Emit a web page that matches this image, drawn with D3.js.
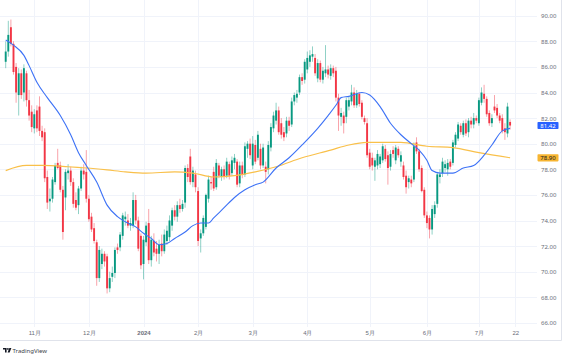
<!DOCTYPE html>
<html><head><meta charset="utf-8">
<script src="https://cdn.jsdelivr.net/npm/d3@7"></script>
<style>
body{margin:0;background:#fff;}
svg{display:block;font-family:"Noto Sans CJK JP","Noto Sans",sans-serif;}
</style></head><body>
<svg id="c" width="575" height="358"></svg>
<script>
// ---- data (daily candles) ----
const open = [86.4,87.2,89.1,87.8,86.0,83.8,85.5,84.0,85.5,83.4,
82.5,81.2,82.6,82.9,81.0,80.9,77.4,75.5,75.7,77.0,
78.5,78.3,76.4,75.8,77.7,77.9,77.0,75.6,75.2,76.5,
77.9,77.8,75.7,74.3,73.4,72.3,69.5,70.6,71.4,71.2,
68.7,69.6,69.9,71.9,71.9,72.8,74.1,74.0,73.6,73.6,
75.6,74.0,72.8,70.6,72.3,73.8,70.9,72.4,71.8,71.4,
72.2,71.6,72.4,72.7,73.6,74.8,74.3,75.2,74.9,75.4,
78.1,79.0,77.0,77.6,76.3,72.6,73.0,73.5,75.7,77.0,
77.8,76.6,78.3,77.4,78.0,77.5,78.4,77.7,78.5,78.6,
76.9,78.3,77.6,79.6,80.0,78.3,79.9,78.9,79.6,78.3,
78.2,78.0,79.7,81.2,81.8,82.6,81.6,80.9,80.8,81.8,
81.5,83.3,83.6,84.0,85.2,85.0,85.8,86.4,86.8,86.7,
85.1,86.3,85.0,85.5,85.8,85.3,85.9,85.7,83.6,82.1,
82.2,82.1,82.9,83.3,84.0,83.0,83.9,83.2,82.0,81.6,
79.3,78.9,78.2,78.3,78.4,78.7,79.6,79.1,78.2,79.5,
78.7,79.6,78.6,78.3,77.5,77.0,77.2,77.2,80.1,79.4,
78.1,76.4,74.4,74.2,73.3,74.5,75.3,77.4,77.7,78.1,
78.0,78.6,78.5,79.9,80.4,81.4,80.7,81.6,80.9,81.8,
81.5,82.0,81.6,83.2,83.9,83.5,82.4,81.6,82.9,82.8,
82.2,82.0,81.2,80.8,81.7];
const high = [88.0,89.6,89.7,88.0,86.3,85.9,85.8,86.2,85.7,84.2,
83.0,82.7,83.0,83.7,81.4,81.2,77.9,76.5,77.4,78.5,
79.6,78.6,76.7,78.0,78.4,78.2,77.3,76.2,76.7,78.2,
78.4,79.5,76.0,74.6,73.8,72.5,72.0,71.8,71.6,71.4,
70.0,70.4,71.9,72.2,73.1,74.6,74.7,74.5,74.2,76.2,
76.0,74.3,73.0,72.8,73.9,74.9,72.8,73.0,72.4,72.5,
72.9,73.3,73.6,74.4,75.0,75.2,75.5,75.7,75.6,78.3,
78.4,79.6,78.2,77.9,76.6,73.3,74.4,76.1,77.5,77.4,
78.2,78.8,78.5,78.2,78.3,78.9,78.6,79.0,79.2,78.8,
78.6,78.6,80.1,80.2,80.4,80.6,80.3,81.0,80.0,80.0,
78.6,80.2,81.6,82.5,83.2,82.9,82.0,81.3,82.1,82.1,
83.6,84.0,84.2,85.4,85.5,86.6,87.2,87.3,87.6,87.0,
86.6,86.5,86.0,87.7,86.1,86.2,86.1,86.0,83.9,82.8,
82.5,83.6,83.7,84.6,84.4,84.2,84.0,83.4,82.2,82.0,
79.6,79.3,78.9,79.5,79.2,80.0,79.9,79.4,79.5,79.8,
79.9,79.8,79.4,78.6,77.9,77.5,77.5,80.1,80.5,79.6,
78.3,76.6,74.7,74.4,75.2,75.5,77.8,78.0,78.9,78.7,
78.8,78.8,80.3,80.9,81.7,81.6,81.8,81.9,82.0,82.1,
82.4,82.2,83.6,84.4,84.6,83.7,82.6,82.3,83.8,83.1,
82.4,82.3,81.6,83.2,81.9];
const low = [85.9,86.8,87.6,85.4,83.2,82.2,83.5,83.3,82.9,81.8,
80.9,80.8,80.9,80.6,80.2,77.0,74.9,74.7,75.4,76.8,
78.0,76.2,72.5,74.8,77.2,76.7,75.0,74.8,74.5,76.3,
77.2,75.4,73.9,73.1,72.2,68.9,69.2,70.2,70.4,68.3,
68.4,69.2,69.5,71.4,71.6,72.5,73.6,73.4,73.2,73.4,
73.7,71.6,70.2,69.4,72.0,70.6,70.4,71.2,70.8,70.6,
71.2,71.4,72.1,72.4,73.2,74.0,73.9,74.6,74.7,75.0,
77.0,76.8,76.6,76.2,72.0,71.5,72.8,73.3,75.4,76.4,
76.3,76.4,77.3,77.1,77.2,77.3,77.2,77.5,78.0,76.6,
76.6,77.3,77.4,78.9,78.8,78.0,78.4,78.7,78.0,78.1,
76.9,77.6,79.4,80.9,81.5,80.7,80.4,80.2,80.5,81.0,
81.3,83.0,83.2,83.8,84.6,84.7,85.5,86.0,86.4,85.3,
84.8,84.8,84.7,85.2,85.1,85.0,85.2,83.3,81.0,81.4,
80.8,81.6,82.6,83.0,82.8,82.8,82.9,81.9,81.5,78.9,
78.0,77.9,77.1,78.0,78.1,78.5,78.6,76.8,77.9,78.9,
78.4,78.9,78.2,77.2,76.1,76.5,76.6,77.0,79.2,77.8,
76.2,74.2,73.4,72.6,72.9,74.2,75.0,76.9,77.4,77.8,
77.5,78.0,78.3,79.7,80.2,80.7,80.5,80.6,80.5,81.2,
81.2,81.6,81.4,83.0,83.2,82.1,81.4,81.3,82.4,82.0,
81.6,80.8,80.3,80.5,81.1];
const close = [87.2,88.5,87.8,85.6,84.0,85.5,83.8,85.9,83.4,82.2,
81.3,82.3,81.2,81.0,80.5,77.3,75.4,75.7,77.2,78.3,
78.1,76.4,73.1,77.8,77.9,77.0,75.3,75.0,76.5,77.9,
77.6,75.7,74.1,73.3,72.4,69.5,71.7,71.4,70.8,68.7,
69.5,69.9,71.7,71.7,72.9,74.4,74.3,73.6,73.8,75.6,
74.0,71.8,70.5,72.5,73.6,70.9,72.5,71.5,71.4,72.1,
71.6,72.9,73.2,74.0,74.8,74.3,75.2,74.9,75.3,78.1,
77.4,77.0,77.9,76.6,72.4,73.0,74.2,76.0,77.2,76.9,
76.5,78.5,77.5,78.0,77.4,78.6,77.5,78.7,78.9,76.8,
78.3,77.6,79.8,80.0,79.1,80.0,78.6,80.7,78.3,79.7,
77.8,79.9,81.3,82.2,82.6,80.9,80.7,80.5,81.8,81.4,
83.3,83.8,83.9,85.2,84.9,86.4,86.7,86.9,87.0,85.5,
86.3,85.0,85.7,85.8,85.4,85.9,85.5,83.6,82.2,82.4,
81.6,83.4,83.4,84.0,83.0,83.9,83.1,82.1,81.7,79.1,
78.2,78.3,78.7,79.2,79.0,79.8,78.8,78.1,79.2,79.2,
79.7,79.1,79.1,77.4,76.6,77.3,76.9,79.8,79.4,78.0,
76.3,74.4,73.8,73.3,74.9,75.2,77.6,77.6,78.6,78.4,
78.5,78.2,80.1,80.7,81.5,80.9,81.6,80.8,81.8,81.5,
82.0,81.8,83.4,84.0,83.5,82.3,81.6,82.0,82.6,82.2,
81.8,81.0,80.9,82.9,81.42];

// moving averages, read at sample bars
const fastMaBar = [0,3,7,9,12,16,21,25,28,31,35,39,43,46,50,53,56,59,62,65,69,72,75,78,80,84,88,92,96,99,104,109,114,120,124,127,129,132,137,140,144,148,152,156,159,162,164,167,172,176,180,184,187,191,194];
const fastMaVal = [88.1,87.7,86.9,86.1,84.8,83.6,82.2,80.7,79.3,78.3,77.0,75.2,74.3,73.9,73.5,73.0,72.6,72.1,72.2,72.6,73.1,73.6,73.8,73.8,74.2,75.0,75.8,76.4,76.8,77.0,78.1,78.9,79.9,81.2,82.2,83.0,83.6,83.7,84.0,83.8,82.9,81.6,80.7,80.0,79.5,78.7,77.9,77.7,77.7,78.1,78.3,79.1,79.9,81.0,81.2];
const slowMaBar = [0,8,14,24,31,39,46,54,65,72,80,88,96,104,114,125,132,139,146,152,162,172,182,194];
const slowMaVal = [77.9,78.3,78.3,78.2,78.1,77.95,77.8,77.7,77.8,77.7,77.4,77.5,77.8,78.2,78.9,79.5,79.9,80.1,80.1,80.1,79.8,79.7,79.3,78.9];

const priceTicks = [66,68,70,72,74,76,78,80,82,84,86,88,90];
const timeTickBar = [11,32,53,74,95,116,140,162,182,196];
const timeTickLabel = ["11月","12月","2024","2月","3月","4月","5月","6月","7月","22"];
const lastClose = 81.42;
const slowMaLast = 78.90;

// ---- layout ----
const svg = d3.select("#c");
const plotR = 537, plotB = 327, axisR = 561.5, axisB = 340.5;
const N = close.length;
const x = d3.scaleLinear().domain([0, N - 1]).range([5.7, 5.7 + 2.6 * (N - 1)]);
const y = d3.scaleLinear().domain([66, 90]).range([322.9, 15.7]);

const up = "#089981", dn = "#f23645";

// grid
const grid = svg.append("g");
grid.selectAll("line.h").data(priceTicks).join("line")
  .attr("x1", 0).attr("x2", plotR)
  .attr("y1", d => Math.round(y(d)) + 0.5).attr("y2", d => Math.round(y(d)) + 0.5)
  .attr("stroke", "#f0f3fa").attr("stroke-width", 1);
grid.selectAll("line.v").data(timeTickBar).join("line")
  .attr("y1", 0).attr("y2", plotB)
  .attr("x1", d => Math.round(x(d)) + 0.5).attr("x2", d => Math.round(x(d)) + 0.5)
  .attr("stroke", "#f0f3fa").attr("stroke-width", 1);

// borders
svg.append("line").attr("x1", axisR).attr("x2", axisR).attr("y1", 0).attr("y2", axisB)
  .attr("stroke", "#e0e3eb");
svg.append("line").attr("x1", 0).attr("x2", axisR).attr("y1", axisB).attr("y2", axisB)
  .attr("stroke", "#e0e3eb");

// candles
const bars = d3.range(N);
const cg = svg.append("g");
cg.selectAll("line").data(bars).join("line")
  .attr("x1", i => x(i)).attr("x2", i => x(i))
  .attr("y1", i => y(high[i])).attr("y2", i => y(low[i]))
  .attr("stroke", i => close[i] >= open[i] ? up : dn)
  .attr("stroke-opacity", 0.5).attr("stroke-width", 0.9);
cg.selectAll("rect").data(bars).join("rect")
  .attr("x", i => x(i) - 0.95).attr("width", 1.9)
  .attr("y", i => y(Math.max(open[i], close[i])))
  .attr("height", i => Math.max(0.8, Math.abs(y(open[i]) - y(close[i]))))
  .attr("fill", i => close[i] >= open[i] ? up : dn);

// moving averages
const line = d3.line().x(d => x(d[0])).y(d => y(d[1])).curve(d3.curveMonotoneX);
svg.append("path").datum(slowMaBar.map((b, k) => [b, slowMaVal[k]]))
  .attr("d", line).attr("fill", "none").attr("stroke", "#f9c04a").attr("stroke-width", 1.2);
svg.append("path").datum(fastMaBar.map((b, k) => [b, fastMaVal[k]]))
  .attr("d", line).attr("fill", "none").attr("stroke", "#3d72f6").attr("stroke-width", 1.1);

// price axis
const yAxis = d3.axisRight(y).tickValues(priceTicks).tickSize(0).tickPadding(0)
  .tickFormat(d3.format(".2f"));
const ya = svg.append("g").attr("transform", `translate(${plotR + 4},0)`).call(yAxis);
ya.select(".domain").remove();
ya.selectAll("text").attr("font-size", 6).attr("fill", "#6a6d78")
  .attr("font-family", "'Noto Sans',sans-serif");

// price labels
function tag(v, fill, color) {
  const g = svg.append("g");
  g.append("rect").attr("x", plotR + 0.5).attr("y", y(v) - 3.6).attr("width", 21).attr("height", 7.2)
    .attr("rx", 0.8).attr("fill", fill);
  g.append("text").attr("x", plotR + 11).attr("y", y(v)).attr("dy", "0.35em")
    .attr("text-anchor", "middle").attr("font-size", 6).attr("fill", color)
    .attr("font-family", "'Noto Sans',sans-serif")
    .text(d3.format(".2f")(v));
}
tag(lastClose, "#2962ff", "#ffffff");
tag(slowMaLast, "#f7b531", "#131722");

// time axis
const xAxis = d3.axisBottom(x).tickValues(timeTickBar).tickSize(0).tickPadding(0)
  .tickFormat((d, k) => timeTickLabel[k]);
const xa = svg.append("g").attr("transform", `translate(0,${plotB + 4})`).call(xAxis);
xa.select(".domain").remove();
xa.selectAll("text").attr("font-size", 6).attr("fill", "#6a6d78")
  .attr("font-weight", (d, k) => timeTickLabel[k] === "2024" ? 600 : 400);

// logo
const lg = svg.append("g").attr("transform", "translate(3,348)");
lg.append("path").attr("d", "M0,0 H3.6 V4.6 H2 V1.6 H0 Z").attr("fill", "#131722");
lg.append("circle").attr("cx", 4.9).attr("cy", 0.9).attr("r", 0.9).attr("fill", "#131722");
lg.append("path").attr("d", "M6.4,0 H8.4 L6.6,4.6 H4.6 Z").attr("fill", "#131722");
svg.append("text").attr("x", 12.5).attr("y", 352.6).attr("font-size", 6)
  .attr("fill", "#3b3e48").attr("font-family", "'Noto Sans',sans-serif").text("TradingView");
</script>
</body></html>
